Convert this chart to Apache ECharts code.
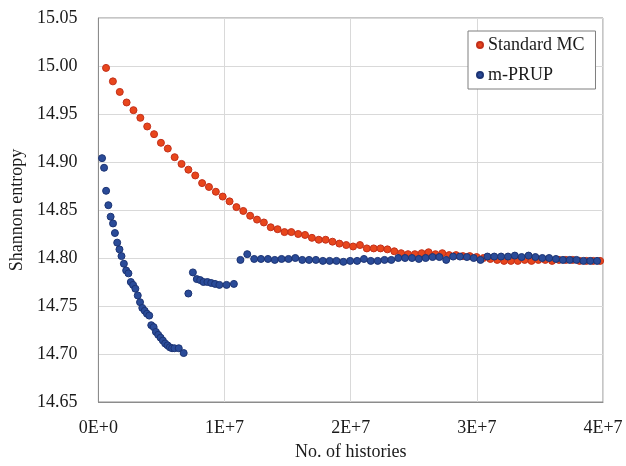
<!DOCTYPE html>
<html>
<head>
<meta charset="utf-8">
<script src="https://cdn.jsdelivr.net/npm/echarts@6/dist/echarts.min.js"></script>
<style>html,body{margin:0;padding:0;background:#fff}#c{width:626px;height:466px}</style>
</head>
<body>
<div id="c"></div>
<script>
// x values in millions of histories
var stdX = [0.605,1.149,1.693,2.237,2.781,3.325,3.869,4.413,4.957,5.501,
  6.045,6.589,7.133,7.677,8.221,8.765,9.309,9.853,10.397,10.941,
  11.485,12.029,12.573,13.117,13.661,14.205,14.749,15.293,15.837,16.381,
  16.925,17.469,18.013,18.557,19.101,19.645,20.189,20.733,21.277,21.821,
  22.365,22.909,23.453,23.997,24.541,25.085,25.629,26.173,26.717,27.261,
  27.805,28.349,28.893,29.437,29.981,30.525,31.069,31.613,32.157,32.701,
  33.245,33.789,34.333,34.877,35.421,35.965,36.509,37.053,37.597,38.141,
  38.685,39.229,39.773];
var stdY = [14.998,14.984,14.973,14.962,14.954,14.946,14.937,14.929,14.920,14.914,
  14.905,14.898,14.892,14.886,14.878,14.874,14.869,14.864,14.859,14.853,
  14.849,14.844,14.840,14.837,14.832,14.830,14.827,14.827,14.825,14.824,
  14.821,14.819,14.819,14.817,14.815,14.8135,14.812,14.8135,14.810,14.810,
  14.810,14.809,14.807,14.805,14.804,14.804,14.805,14.806,14.804,14.805,
  14.803,14.803,14.802,14.802,14.801,14.800,14.799,14.798,14.797,14.797,
  14.797,14.798,14.797,14.798,14.798,14.797,14.798,14.798,14.798,14.797,
  14.797,14.797,14.797];

var prupX = [0.29,0.45,0.61,0.79,0.97,1.16,1.31,1.49,1.67,1.83,2.02,2.20,2.38,2.57,2.75,2.93,3.12,3.30,3.48,3.67,
  3.85,4.03,4.19,4.38,4.56,4.74,4.93,5.11,5.29,5.48,5.66,5.84,6.03,6.37,6.76,
  7.13,7.49,7.80,8.07,8.33,8.64,8.94,9.25,9.59,10.16,10.74,
  11.26,11.80,12.35,12.89,13.44,13.98,14.52,15.07,15.61,16.16,
  16.70,17.24,17.79,18.33,18.87,19.42,19.96,20.51,21.05,21.59,
  22.14,22.68,23.22,23.77,24.31,24.86,25.40,25.94,26.49,27.03,
  27.57,28.12,28.66,29.21,29.75,30.29,30.84,31.38,31.92,32.47,
  33.01,33.55,34.10,34.64,35.19,35.73,36.27,36.82,37.36,37.90,
  38.45,38.99,39.53];
var prupY = [14.904,14.894,14.870,14.855,14.843,14.836,14.826,14.816,14.809,14.802,14.794,14.787,14.784,14.775,14.772,14.768,14.761,14.754,14.748,14.745,
  14.742,14.740,14.730,14.728,14.723,14.720,14.717,14.714,14.711,14.709,14.707,14.706,14.706,14.706,14.701,
  14.763,14.785,14.778,14.777,14.775,14.775,14.774,14.773,14.772,14.772,14.773,
  14.798,14.804,14.799,14.799,14.799,14.798,14.799,14.799,14.800,14.798,
  14.798,14.798,14.797,14.797,14.797,14.796,14.797,14.797,14.799,14.797,
  14.797,14.798,14.798,14.800,14.800,14.800,14.799,14.800,14.801,14.801,
  14.798,14.8015,14.8015,14.801,14.800,14.798,14.8015,14.8015,14.8015,14.8015,
  14.8025,14.801,14.8025,14.801,14.800,14.800,14.799,14.798,14.798,14.798,
  14.797,14.797,14.797];

var xTickLabels = ['0E+0','1E+7','2E+7','3E+7','4E+7'];
var seriesNames = ['Standard MC','m-PRUP'];

function pairs(xs, ys){ var out=[]; for(var i=0;i<xs.length;i++){ out.push([xs[i]*1e6, ys[i]]); } return out; }

var FONT = "'Liberation Serif','Times New Roman',serif";
var chart = echarts.init(document.getElementById('c'), null, {renderer:'canvas'});
chart.setOption({
  backgroundColor:'#ffffff',
  animation:false,
  textStyle:{fontFamily:FONT},
  grid:{left:94, top:18, width:509, height:388, show:true, borderColor:'#8c8c8c', borderWidth:1, backgroundColor:'transparent'},
  legend:{
    orient:'vertical', left:468, top:31,
    padding:[5,11,5,8], itemGap:12, itemWidth:6, itemHeight:6,
    backgroundColor:'#fff', borderColor:'#7f7f7f', borderWidth:1,
    icon:'circle',
    textStyle:{fontFamily:FONT, fontSize:18, color:'#1a1a1a', lineHeight:18},
    data:seriesNames
  },
  xAxis:{
    type:'value', min:0, max:4e7, interval:1e7,
    name:'No. of histories', nameLocation:'middle', nameGap:41,
    nameTextStyle:{fontFamily:FONT, fontSize:18, color:'#1a1a1a'},
    axisLine:{show:true, onZero:false, lineStyle:{color:'#8c8c8c'}},
    axisTick:{show:false},
    axisLabel:{fontFamily:FONT, fontSize:18, color:'#1a1a1a', margin:17,
      formatter:function(v){ return xTickLabels[Math.round(v/1e7)]; }},
    splitLine:{show:true, lineStyle:{color:'#d9d9d9'}}
  },
  yAxis:{
    type:'value', min:14.65, max:15.05, interval:0.05,
    name:'Shannon entropy', nameLocation:'middle', nameGap:68,
    nameTextStyle:{fontFamily:FONT, fontSize:18, color:'#1a1a1a'},
    axisLine:{show:true, lineStyle:{color:'#8c8c8c'}},
    axisTick:{show:false},
    axisLabel:{fontFamily:FONT, fontSize:18, color:'#1a1a1a', margin:21,
      formatter:function(v){ return v.toFixed(2); }},
    splitLine:{show:true, lineStyle:{color:'#d9d9d9'}}
  },
  series:[
    {name:seriesNames[0], type:'scatter', symbol:'circle', symbolSize:7,
     itemStyle:{color:'#e8461c', borderColor:'#c3301a', borderWidth:1, opacity:1},
     data:pairs(stdX, stdY)},
    {name:seriesNames[1], type:'scatter', symbol:'circle', symbolSize:7,
     itemStyle:{color:'#2a4b98', borderColor:'#1c3474', borderWidth:1, opacity:1},
     data:pairs(prupX, prupY)}
  ]
});
</script>
</body>
</html>
